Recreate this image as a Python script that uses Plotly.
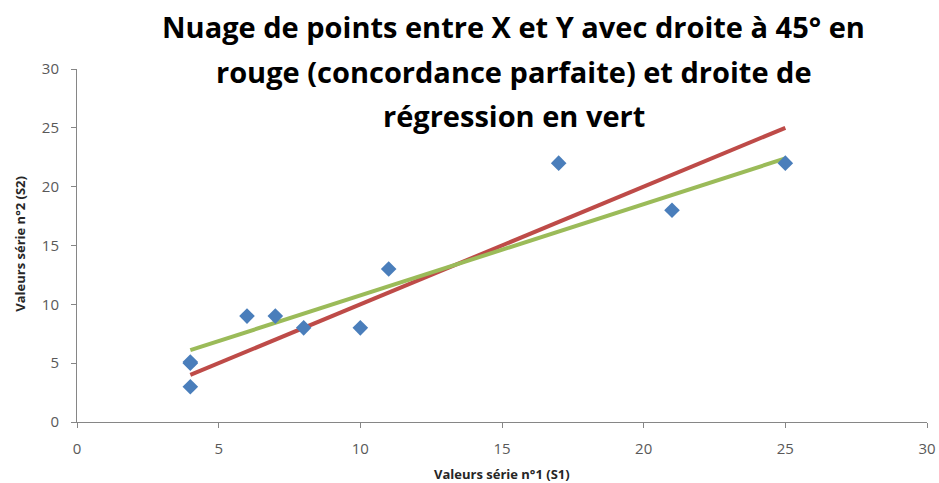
import plotly.graph_objects as go

# Data
s1_values = [4, 4, 4, 6, 7, 8, 10, 11, 17, 21, 25]
s2_values = [3, 5, 5.1, 9, 9, 8, 8, 13, 22, 18, 22]

diag_x = [4, 25]
diag_y = [4, 25]

reg_x = [4, 25]
reg_y = [6.1, 22.4]

title_lines = [
    "Nuage de points entre X et Y avec droite à 45° en",
    "rouge (concordance parfaite) et droite de",
    "régression en vert",
]
x_title = "Valeurs série n°1 (S1)"
y_title = "Valeurs série n°2 (S2)"
tick_vals = [0, 5, 10, 15, 20, 25, 30]

FONT = "Open Sans, sans-serif"

fig = go.Figure()
fig.add_trace(go.Scatter(x=diag_x, y=diag_y, mode="lines",
                         line=dict(color="#BE4B48", width=4), showlegend=False))
fig.add_trace(go.Scatter(x=reg_x, y=reg_y, mode="lines",
                         line=dict(color="#9BBB59", width=4), showlegend=False))
fig.add_trace(go.Scatter(x=s1_values, y=s2_values, mode="markers",
                         marker=dict(symbol="diamond", size=12, color="#4A7EBB"),
                         showlegend=False))

W, H = 939, 483
plot_left, plot_right, plot_top, plot_bottom = 76.5, 927.5, 69, 421.7  # pixels
L = plot_left
T = plot_top
R = W - plot_right
B = H - plot_bottom
ph = H - T - B
pw = W - L - R

def py(ypix):
    return (plot_bottom - ypix) / ph

def px(xpix):
    return (xpix - plot_left) / pw

annotations = []
for txt, yc in zip(title_lines, [27, 71, 115]):
    annotations.append(dict(text="<b>" + txt + "</b>", x=px(514), y=py(yc), xref="paper", yref="paper",
                            xanchor="center", yanchor="middle", showarrow=False,
                            font=dict(family=FONT, size=29, color="#000000")))
annotations.append(dict(text="<b>" + x_title + "</b>", x=px(502), y=py(474), xref="paper", yref="paper",
                        xanchor="center", yanchor="middle", showarrow=False,
                        font=dict(family=FONT, size=13, color="#262626")))
annotations.append(dict(text="<b>" + y_title + "</b>", x=px(20), y=py(244), xref="paper", yref="paper",
                        xanchor="center", yanchor="middle", showarrow=False, textangle=-90,
                        font=dict(family=FONT, size=13, color="#262626")))

axis_common = dict(range=[0, 30], tickvals=tick_vals, showgrid=False, zeroline=False,
                   showline=True, linecolor="#868686", linewidth=1,
                   ticks="outside", ticklen=5, tickcolor="#868686",
                   ticklabeloverflow="allow",
                   tickfont=dict(family=FONT, size=15, color="#595959"))

fig.update_layout(
    width=W, height=H,
    margin=dict(l=L, r=R, t=T, b=B, autoexpand=False),
    paper_bgcolor="white", plot_bgcolor="white",
    xaxis=dict(**axis_common, ticklabelstandoff=8, automargin=False),
    yaxis=dict(**axis_common, ticklabelstandoff=9, automargin=False),
    annotations=annotations,
)

fig.write_html(
    "out.html",
    config={"displayModeBar": False},
    post_script="document.body.style.margin='0';document.body.style.overflow='hidden';",
)
